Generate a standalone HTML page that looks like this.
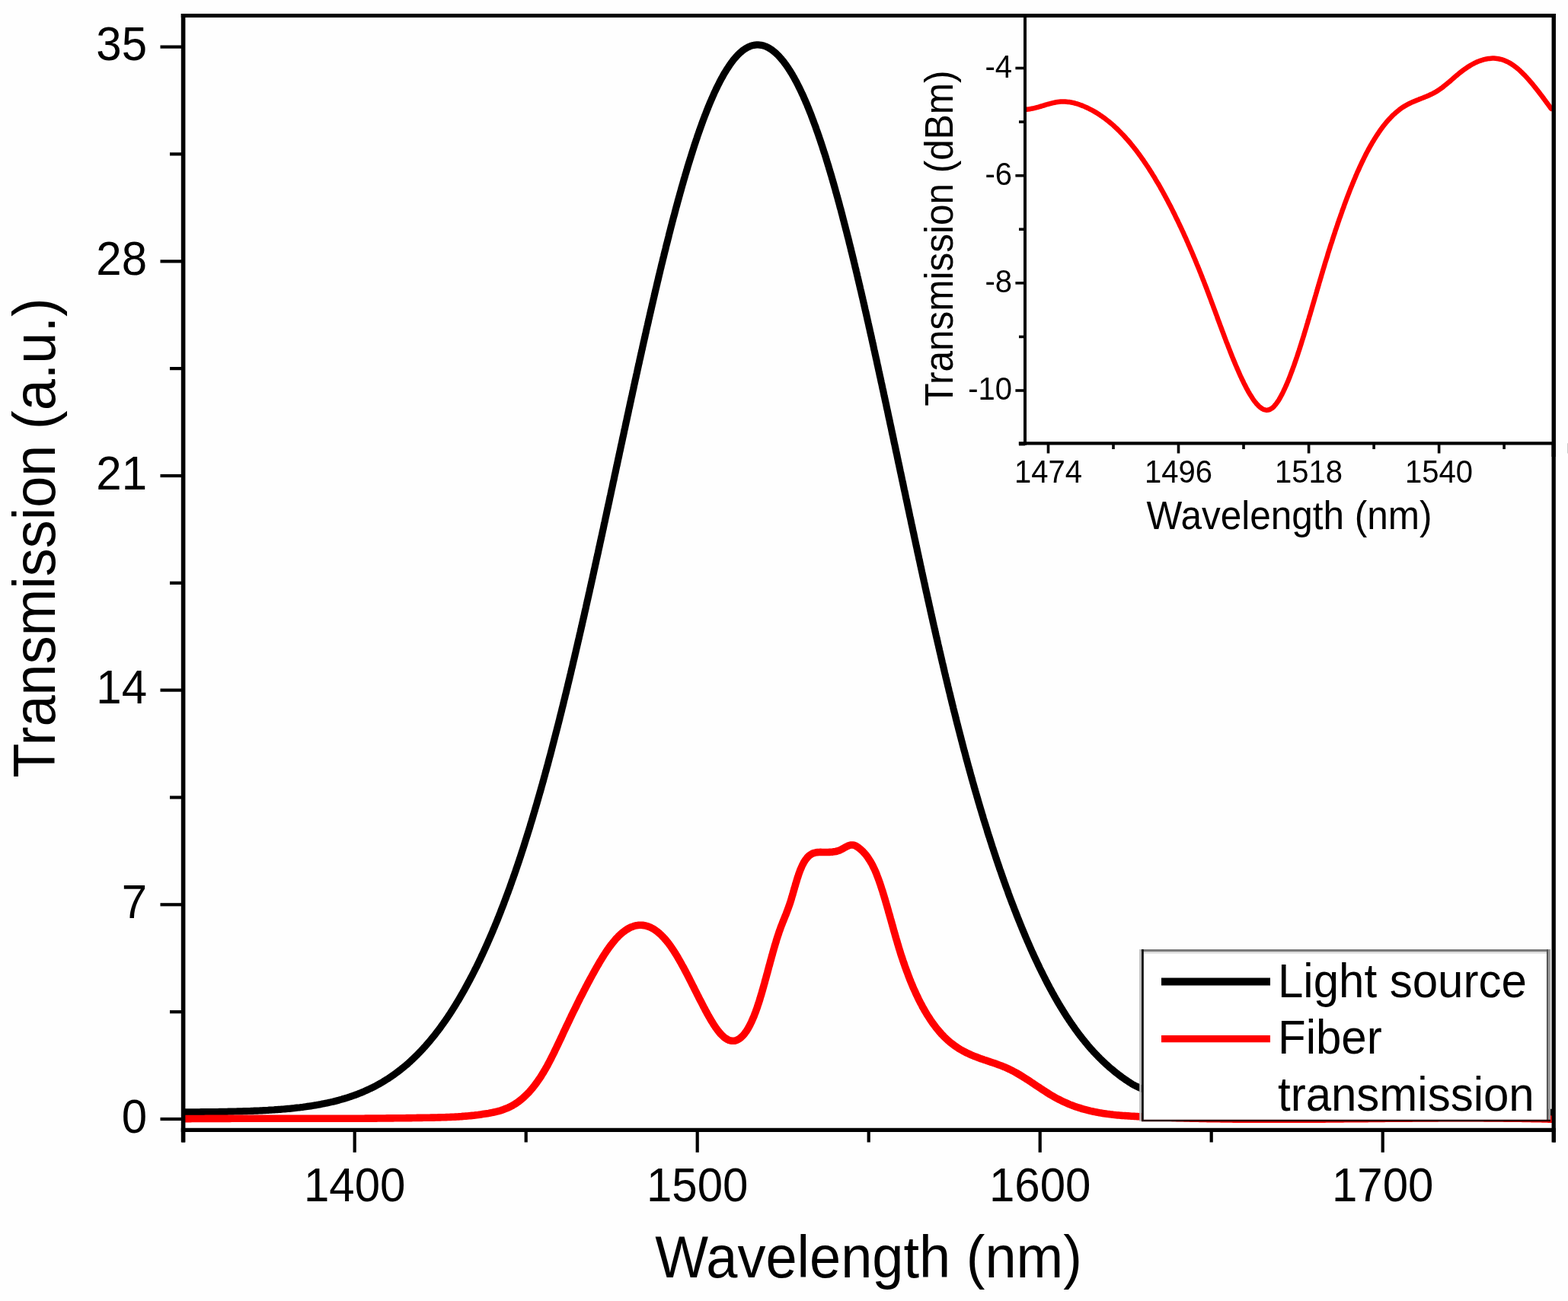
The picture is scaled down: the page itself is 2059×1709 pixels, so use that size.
<!DOCTYPE html><html><head><meta charset="utf-8"><title>Transmission spectrum</title>
<style>html,body{margin:0;padding:0;background:#fff;}svg{display:block;}text{font-family:"Liberation Sans",Arial,Helvetica,sans-serif;fill:#000;}</style></head><body>
<svg width="2059" height="1709" viewBox="0 0 2059 1709">
<rect x="0" y="0" width="2059" height="1709" fill="#fefefe"/>
<defs><clipPath id="cm"><rect x="240.6" y="20.5" width="1799.6" height="1463.8"/></clipPath><clipPath id="ci"><rect x="1346" y="20" width="694" height="563"/></clipPath></defs>
<g clip-path="url(#cm)" fill="none" stroke-linejoin="round" stroke-linecap="round">
<path d="M240.0 1460.9L242.0 1460.9 244.0 1460.9 246.0 1460.9 248.0 1460.9 250.0 1460.9 252.0 1460.8 254.0 1460.8 256.0 1460.8 258.0 1460.8 260.0 1460.8 262.0 1460.8 264.0 1460.7 266.0 1460.7 268.0 1460.7 270.0 1460.7 272.0 1460.7 274.0 1460.6 276.0 1460.6 278.0 1460.6 280.0 1460.6 282.0 1460.5 284.0 1460.5 286.0 1460.5 288.0 1460.4 290.0 1460.4 292.0 1460.4 294.0 1460.3 296.0 1460.3 298.0 1460.3 300.0 1460.2 302.0 1460.2 304.0 1460.1 306.0 1460.1 308.0 1460.0 310.0 1460.0 312.0 1459.9 314.0 1459.9 316.0 1459.8 318.0 1459.8 320.0 1459.7 322.0 1459.7 324.0 1459.6 326.0 1459.5 328.0 1459.5 330.0 1459.4 332.0 1459.3 334.0 1459.2 336.0 1459.1 338.0 1459.1 340.0 1459.0 342.0 1458.9 344.0 1458.8 346.0 1458.7 348.0 1458.6 350.0 1458.5 352.0 1458.4 354.0 1458.2 356.0 1458.1 357.9 1458.0 359.9 1457.9 361.9 1457.7 363.9 1457.6 365.9 1457.4 367.9 1457.3 369.9 1457.1 371.9 1457.0 373.9 1456.8 375.9 1456.6 377.9 1456.4 379.9 1456.3 381.9 1456.1 383.9 1455.9 385.8 1455.7 387.8 1455.4 389.8 1455.2 391.8 1455.0 393.8 1454.8 395.8 1454.5 397.8 1454.3 399.7 1454.0 401.7 1453.7 403.7 1453.4 405.7 1453.2 407.7 1452.9 409.6 1452.6 411.6 1452.2 413.6 1451.9 415.6 1451.6 417.5 1451.2 419.5 1450.9 421.5 1450.5 423.4 1450.1 425.4 1449.7 427.4 1449.3 429.3 1448.9 431.3 1448.5 433.2 1448.1 435.2 1447.6 437.1 1447.2 439.1 1446.7 441.0 1446.2 442.9 1445.7 444.9 1445.2 446.8 1444.6 448.7 1444.1 450.6 1443.5 452.6 1443.0 454.5 1442.4 456.4 1441.8 458.3 1441.2 460.2 1440.5 462.1 1439.9 464.0 1439.2 465.8 1438.6 467.7 1437.9 469.6 1437.2 471.4 1436.4 473.3 1435.7 475.2 1434.9 477.0 1434.2 478.8 1433.4 480.7 1432.6 482.5 1431.7 484.3 1430.9 486.1 1430.0 487.9 1429.2 489.7 1428.3 491.5 1427.4 493.3 1426.4 495.0 1425.5 496.8 1424.5 498.5 1423.6 500.3 1422.6 502.0 1421.6 503.7 1420.5 505.4 1419.5 507.1 1418.4 508.8 1417.4 510.5 1416.3 512.1 1415.2 513.8 1414.1 515.4 1412.9 517.1 1411.8 518.7 1410.6 520.3 1409.4 521.9 1408.2 523.5 1407.0 525.1 1405.8 526.7 1404.6 528.2 1403.3 529.8 1402.1 531.3 1400.8 532.9 1399.5 534.4 1398.2 535.9 1396.9 537.4 1395.5 538.9 1394.2 540.3 1392.8 541.8 1391.5 543.2 1390.1 544.7 1388.7 546.1 1387.3 547.5 1385.9 548.9 1384.5 550.3 1383.1 551.7 1381.6 553.1 1380.2 554.5 1378.7 555.8 1377.2 557.2 1375.7 558.5 1374.3 559.8 1372.8 561.1 1371.3 562.4 1369.7 563.7 1368.2 565.0 1366.7 566.3 1365.1 567.6 1363.6 568.8 1362.0 570.1 1360.5 571.3 1358.9 572.5 1357.3 573.8 1355.7 575.0 1354.2 576.2 1352.6 577.4 1351.0 578.6 1349.3 579.7 1347.7 580.9 1346.1 582.1 1344.5 583.2 1342.8 584.4 1341.2 585.5 1339.6 586.6 1337.9 587.8 1336.3 588.9 1334.6 590.0 1332.9 591.1 1331.3 592.2 1329.6 593.2 1327.9 594.3 1326.2 595.4 1324.5 596.5 1322.8 597.5 1321.1 598.6 1319.4 599.6 1317.7 600.6 1316.0 601.7 1314.3 602.7 1312.6 603.7 1310.9 604.7 1309.1 605.7 1307.4 606.7 1305.7 607.7 1303.9 608.7 1302.2 609.7 1300.4 610.7 1298.7 611.6 1296.9 612.6 1295.2 613.5 1293.4 614.5 1291.7 615.4 1289.9 616.4 1288.2 617.3 1286.4 618.2 1284.6 619.2 1282.8 620.1 1281.1 621.0 1279.3 621.9 1277.5 622.8 1275.7 623.7 1273.9 624.6 1272.1 625.5 1270.4 626.4 1268.6 627.3 1266.8 628.1 1265.0 629.0 1263.2 629.9 1261.4 630.7 1259.6 631.6 1257.7 632.4 1255.9 633.3 1254.1 634.1 1252.3 635.0 1250.5 635.8 1248.7 636.6 1246.9 637.5 1245.0 638.3 1243.2 639.1 1241.4 639.9 1239.6 640.7 1237.7 641.5 1235.9 642.3 1234.1 643.1 1232.2 643.9 1230.4 644.7 1228.6 645.5 1226.7 646.3 1224.9 647.1 1223.0 647.8 1221.2 648.6 1219.4 649.4 1217.5 650.1 1215.7 650.9 1213.8 651.7 1212.0 652.4 1210.1 653.2 1208.3 653.9 1206.4 654.7 1204.5 655.4 1202.7 656.1 1200.8 656.9 1199.0 657.6 1197.1 658.3 1195.2 659.0 1193.4 659.8 1191.5 660.5 1189.6 661.2 1187.8 661.9 1185.9 662.6 1184.0 663.3 1182.2 664.0 1180.3 664.7 1178.4 665.4 1176.5 666.1 1174.7 666.8 1172.8 667.5 1170.9 668.2 1169.0 668.9 1167.2 669.6 1165.3 670.2 1163.4 670.9 1161.5 671.6 1159.6 672.2 1157.7 672.9 1155.9 673.6 1154.0 674.2 1152.1 674.9 1150.2 675.6 1148.3 676.2 1146.4 676.9 1144.5 677.5 1142.6 678.2 1140.7 678.8 1138.8 679.4 1137.0 680.1 1135.1 680.7 1133.2 681.4 1131.3 682.0 1129.4 682.6 1127.5 683.3 1125.6 683.9 1123.7 684.5 1121.8 685.1 1119.9 685.7 1118.0 686.4 1116.1 687.0 1114.2 687.6 1112.3 688.2 1110.4 688.8 1108.5 689.4 1106.5 690.0 1104.6 690.6 1102.7 691.2 1100.8 691.8 1098.9 692.4 1097.0 693.0 1095.1 693.6 1093.2 694.2 1091.3 694.8 1089.4 695.4 1087.5 696.0 1085.5 696.5 1083.6 697.1 1081.7 697.7 1079.8 698.3 1077.9 698.9 1076.0 699.4 1074.1 700.0 1072.1 700.6 1070.2 701.1 1068.3 701.7 1066.4 702.3 1064.5 702.8 1062.5 703.4 1060.6 704.0 1058.7 704.5 1056.8 705.1 1054.9 705.6 1052.9 706.2 1051.0 706.7 1049.1 707.3 1047.2 707.8 1045.3 708.4 1043.3 708.9 1041.4 709.5 1039.5 710.0 1037.6 710.6 1035.6 711.1 1033.7 711.6 1031.8 712.2 1029.9 712.7 1027.9 713.3 1026.0 713.8 1024.1 714.3 1022.1 714.9 1020.2 715.4 1018.3 715.9 1016.4 716.4 1014.4 717.0 1012.5 717.5 1010.6 718.0 1008.6 718.5 1006.7 719.1 1004.8 719.6 1002.9 720.1 1000.9 720.6 999.0 721.1 997.1 721.6 995.1 722.2 993.2 722.7 991.3 723.2 989.3 723.7 987.4 724.2 985.5 724.7 983.5 725.2 981.6 725.7 979.7 726.2 977.7 726.7 975.8 727.2 973.8 727.7 971.9 728.2 970.0 728.7 968.0 729.2 966.1 729.7 964.2 730.2 962.2 730.7 960.3 731.2 958.3 731.7 956.4 732.2 954.5 732.7 952.5 733.2 950.6 733.7 948.7 734.2 946.7 734.7 944.8 735.1 942.8 735.6 940.9 736.1 939.0 736.6 937.0 737.1 935.1 737.6 933.1 738.0 931.2 738.5 929.3 739.0 927.3 739.5 925.4 740.0 923.4 740.4 921.5 740.9 919.5 741.4 917.6 741.9 915.7 742.3 913.7 742.8 911.8 743.3 909.8 743.8 907.9 744.2 905.9 744.7 904.0 745.2 902.1 745.6 900.1 746.1 898.2 746.6 896.2 747.0 894.3 747.5 892.3 748.0 890.4 748.4 888.4 748.9 886.5 749.4 884.5 749.8 882.6 750.3 880.7 750.7 878.7 751.2 876.8 751.7 874.8 752.1 872.9 752.6 870.9 753.0 869.0 753.5 867.0 754.0 865.1 754.4 863.1 754.9 861.2 755.3 859.2 755.8 857.3 756.2 855.3 756.7 853.4 757.1 851.4 757.6 849.5 758.0 847.6 758.5 845.6 758.9 843.7 759.4 841.7 759.8 839.8 760.3 837.8 760.7 835.9 761.2 833.9 761.6 832.0 762.1 830.0 762.5 828.1 763.0 826.1 763.4 824.2 763.9 822.2 764.3 820.3 764.7 818.3 765.2 816.4 765.6 814.4 766.1 812.5 766.5 810.5 767.0 808.6 767.4 806.6 767.8 804.7 768.3 802.7 768.7 800.8 769.2 798.8 769.6 796.9 770.0 794.9 770.5 792.9 770.9 791.0 771.3 789.0 771.8 787.1 772.2 785.1 772.7 783.2 773.1 781.2 773.5 779.3 774.0 777.3 774.4 775.4 774.8 773.4 775.3 771.5 775.7 769.5 776.1 767.6 776.6 765.6 777.0 763.7 777.4 761.7 777.9 759.8 778.3 757.8 778.7 755.9 779.2 753.9 779.6 751.9 780.0 750.0 780.4 748.0 780.9 746.1 781.3 744.1 781.7 742.2 782.2 740.2 782.6 738.3 783.0 736.3 783.4 734.4 783.9 732.4 784.3 730.5 784.7 728.5 785.2 726.6 785.6 724.6 786.0 722.6 786.4 720.7 786.9 718.7 787.3 716.8 787.7 714.8 788.1 712.9 788.6 710.9 789.0 709.0 789.4 707.0 789.8 705.1 790.3 703.1 790.7 701.1 791.1 699.2 791.5 697.2 792.0 695.3 792.4 693.3 792.8 691.4 793.2 689.4 793.6 687.5 794.1 685.5 794.5 683.6 794.9 681.6 795.3 679.6 795.8 677.7 796.2 675.7 796.6 673.8 797.0 671.8 797.4 669.9 797.9 667.9 798.3 666.0 798.7 664.0 799.1 662.1 799.6 660.1 800.0 658.1 800.4 656.2 800.8 654.2 801.2 652.3 801.7 650.3 802.1 648.4 802.5 646.4 802.9 644.5 803.3 642.5 803.8 640.5 804.2 638.6 804.6 636.6 805.0 634.7 805.4 632.7 805.9 630.8 806.3 628.8 806.7 626.9 807.1 624.9 807.5 622.9 808.0 621.0 808.4 619.0 808.8 617.1 809.2 615.1 809.6 613.2 810.1 611.2 810.5 609.3 810.9 607.3 811.3 605.3 811.7 603.4 812.2 601.4 812.6 599.5 813.0 597.5 813.4 595.6 813.8 593.6 814.3 591.7 814.7 589.7 815.1 587.7 815.5 585.8 815.9 583.8 816.4 581.9 816.8 579.9 817.2 578.0 817.6 576.0 818.0 574.1 818.5 572.1 818.9 570.1 819.3 568.2 819.7 566.2 820.1 564.3 820.6 562.3 821.0 560.4 821.4 558.4 821.8 556.5 822.2 554.5 822.7 552.6 823.1 550.6 823.5 548.6 823.9 546.7 824.4 544.7 824.8 542.8 825.2 540.8 825.6 538.9 826.0 536.9 826.5 535.0 826.9 533.0 827.3 531.0 827.7 529.1 828.2 527.1 828.6 525.2 829.0 523.2 829.4 521.3 829.9 519.3 830.3 517.4 830.7 515.4 831.1 513.5 831.6 511.5 832.0 509.5 832.4 507.6 832.8 505.6 833.3 503.7 833.7 501.7 834.1 499.8 834.5 497.8 835.0 495.9 835.4 493.9 835.8 492.0 836.3 490.0 836.7 488.1 837.1 486.1 837.5 484.2 838.0 482.2 838.4 480.2 838.8 478.3 839.3 476.3 839.7 474.4 840.1 472.4 840.6 470.5 841.0 468.5 841.4 466.6 841.9 464.6 842.3 462.7 842.7 460.7 843.2 458.8 843.6 456.8 844.0 454.9 844.5 452.9 844.9 451.0 845.3 449.0 845.8 447.1 846.2 445.1 846.7 443.1 847.1 441.2 847.5 439.2 848.0 437.3 848.4 435.3 848.8 433.4 849.3 431.4 849.7 429.5 850.2 427.5 850.6 425.6 851.1 423.6 851.5 421.7 851.9 419.7 852.4 417.8 852.8 415.8 853.3 413.9 853.7 411.9 854.2 410.0 854.6 408.0 855.1 406.1 855.5 404.1 856.0 402.2 856.4 400.2 856.9 398.3 857.3 396.3 857.8 394.4 858.2 392.5 858.7 390.5 859.1 388.6 859.6 386.6 860.0 384.7 860.5 382.7 860.9 380.8 861.4 378.8 861.9 376.9 862.3 374.9 862.8 373.0 863.2 371.0 863.7 369.1 864.2 367.1 864.6 365.2 865.1 363.2 865.5 361.3 866.0 359.4 866.5 357.4 866.9 355.5 867.4 353.5 867.9 351.6 868.3 349.6 868.8 347.7 869.3 345.7 869.8 343.8 870.2 341.9 870.7 339.9 871.2 338.0 871.7 336.0 872.1 334.1 872.6 332.1 873.1 330.2 873.6 328.3 874.1 326.3 874.5 324.4 875.0 322.4 875.5 320.5 876.0 318.6 876.5 316.6 877.0 314.7 877.5 312.7 878.0 310.8 878.4 308.9 878.9 306.9 879.4 305.0 879.9 303.1 880.4 301.1 880.9 299.2 881.4 297.2 881.9 295.3 882.4 293.4 882.9 291.4 883.4 289.5 883.9 287.6 884.4 285.6 885.0 283.7 885.5 281.8 886.0 279.8 886.5 277.9 887.0 276.0 887.5 274.0 888.0 272.1 888.6 270.2 889.1 268.2 889.6 266.3 890.1 264.4 890.7 262.4 891.2 260.5 891.7 258.6 892.3 256.7 892.8 254.7 893.3 252.8 893.9 250.9 894.4 249.0 894.9 247.0 895.5 245.1 896.0 243.2 896.6 241.3 897.1 239.3 897.7 237.4 898.2 235.5 898.8 233.6 899.4 231.7 899.9 229.7 900.5 227.8 901.1 225.9 901.6 224.0 902.2 222.1 902.8 220.1 903.3 218.2 903.9 216.3 904.5 214.4 905.1 212.5 905.7 210.6 906.3 208.7 906.9 206.8 907.5 204.8 908.1 202.9 908.7 201.0 909.3 199.1 909.9 197.2 910.5 195.3 911.1 193.4 911.7 191.5 912.3 189.6 913.0 187.7 913.6 185.8 914.2 183.9 914.9 182.0 915.5 180.1 916.1 178.2 916.8 176.3 917.4 174.5 918.1 172.6 918.8 170.7 919.4 168.8 920.1 166.9 920.8 165.0 921.5 163.1 922.1 161.3 922.8 159.4 923.5 157.5 924.2 155.6 924.9 153.8 925.6 151.9 926.4 150.0 927.1 148.2 927.8 146.3 928.5 144.4 929.3 142.6 930.0 140.7 930.8 138.9 931.5 137.0 932.3 135.2 933.1 133.3 933.9 131.5 934.7 129.7 935.5 127.8 936.3 126.0 937.1 124.2 937.9 122.3 938.7 120.5 939.6 118.7 940.4 116.9 941.3 115.1 942.2 113.3 943.1 111.5 944.0 109.7 944.9 107.9 945.8 106.2 946.7 104.4 947.7 102.6 948.7 100.9 949.6 99.1 950.6 97.4 951.6 95.7 952.7 94.0 953.7 92.3 954.8 90.6 955.9 88.9 957.0 87.2 958.1 85.6 959.2 83.9 960.4 82.3 961.6 80.7 962.8 79.1 964.1 77.6 965.4 76.1 966.7 74.5 968.1 73.1 969.4 71.6 970.9 70.2 972.3 68.9 973.9 67.6 975.4 66.3 977.0 65.1 978.7 64.0 980.4 63.0 982.2 62.0 984.0 61.2 985.8 60.4 987.7 59.8 989.7 59.4 991.7 59.1 993.6 58.9 995.6 58.9 997.6 59.1 999.6 59.3 1001.6 59.8 1003.5 60.3 1005.4 61.0 1007.2 61.8 1009.0 62.7 1010.7 63.7 1012.4 64.8 1014.0 65.9 1015.6 67.2 1017.2 68.4 1018.7 69.7 1020.1 71.1 1021.6 72.5 1023.0 73.9 1024.3 75.4 1025.6 76.9 1026.9 78.5 1028.2 80.0 1029.4 81.6 1030.6 83.2 1031.8 84.8 1033.0 86.4 1034.1 88.1 1035.2 89.7 1036.3 91.4 1037.4 93.1 1038.4 94.8 1039.5 96.5 1040.5 98.2 1041.5 100.0 1042.5 101.7 1043.4 103.4 1044.4 105.2 1045.4 107.0 1046.3 108.7 1047.2 110.5 1048.1 112.3 1049.0 114.1 1049.9 115.9 1050.8 117.7 1051.6 119.5 1052.5 121.3 1053.3 123.1 1054.2 124.9 1055.0 126.7 1055.8 128.6 1056.6 130.4 1057.4 132.2 1058.2 134.1 1059.0 135.9 1059.8 137.7 1060.5 139.6 1061.3 141.4 1062.0 143.3 1062.8 145.2 1063.5 147.0 1064.3 148.9 1065.0 150.7 1065.7 152.6 1066.4 154.5 1067.1 156.3 1067.8 158.2 1068.5 160.1 1069.2 162.0 1069.9 163.8 1070.6 165.7 1071.3 167.6 1071.9 169.5 1072.6 171.4 1073.3 173.3 1073.9 175.1 1074.6 177.0 1075.2 178.9 1075.9 180.8 1076.5 182.7 1077.2 184.6 1077.8 186.5 1078.4 188.4 1079.1 190.3 1079.7 192.2 1080.3 194.1 1080.9 196.0 1081.5 197.9 1082.1 199.8 1082.8 201.7 1083.4 203.6 1084.0 205.5 1084.6 207.4 1085.1 209.3 1085.7 211.3 1086.3 213.2 1086.9 215.1 1087.5 217.0 1088.1 218.9 1088.6 220.8 1089.2 222.7 1089.8 224.7 1090.4 226.6 1090.9 228.5 1091.5 230.4 1092.1 232.3 1092.6 234.3 1093.2 236.2 1093.7 238.1 1094.3 240.0 1094.8 241.9 1095.4 243.9 1095.9 245.8 1096.5 247.7 1097.0 249.6 1097.5 251.6 1098.1 253.5 1098.6 255.4 1099.1 257.3 1099.7 259.3 1100.2 261.2 1100.7 263.1 1101.3 265.1 1101.8 267.0 1102.3 268.9 1102.8 270.9 1103.3 272.8 1103.9 274.7 1104.4 276.6 1104.9 278.6 1105.4 280.5 1105.9 282.4 1106.4 284.4 1106.9 286.3 1107.4 288.3 1107.9 290.2 1108.4 292.1 1108.9 294.1 1109.4 296.0 1109.9 297.9 1110.4 299.9 1110.9 301.8 1111.4 303.7 1111.9 305.7 1112.4 307.6 1112.9 309.6 1113.4 311.5 1113.9 313.4 1114.4 315.4 1114.9 317.3 1115.3 319.3 1115.8 321.2 1116.3 323.1 1116.8 325.1 1117.3 327.0 1117.7 329.0 1118.2 330.9 1118.7 332.9 1119.2 334.8 1119.6 336.7 1120.1 338.7 1120.6 340.6 1121.1 342.6 1121.5 344.5 1122.0 346.5 1122.5 348.4 1122.9 350.3 1123.4 352.3 1123.9 354.2 1124.3 356.2 1124.8 358.1 1125.3 360.1 1125.7 362.0 1126.2 364.0 1126.6 365.9 1127.1 367.9 1127.6 369.8 1128.0 371.8 1128.5 373.7 1128.9 375.6 1129.4 377.6 1129.8 379.5 1130.3 381.5 1130.8 383.4 1131.2 385.4 1131.7 387.3 1132.1 389.3 1132.6 391.2 1133.0 393.2 1133.5 395.1 1133.9 397.1 1134.4 399.0 1134.8 401.0 1135.2 402.9 1135.7 404.9 1136.1 406.8 1136.6 408.8 1137.0 410.7 1137.5 412.7 1137.9 414.6 1138.4 416.6 1138.8 418.5 1139.2 420.5 1139.7 422.4 1140.1 424.4 1140.6 426.3 1141.0 428.3 1141.4 430.2 1141.9 432.2 1142.3 434.1 1142.7 436.1 1143.2 438.0 1143.6 440.0 1144.1 441.9 1144.5 443.9 1144.9 445.8 1145.4 447.8 1145.8 449.8 1146.2 451.7 1146.7 453.7 1147.1 455.6 1147.5 457.6 1147.9 459.5 1148.4 461.5 1148.8 463.4 1149.2 465.4 1149.7 467.3 1150.1 469.3 1150.5 471.2 1151.0 473.2 1151.4 475.1 1151.8 477.1 1152.2 479.1 1152.7 481.0 1153.1 483.0 1153.5 484.9 1153.9 486.9 1154.4 488.8 1154.8 490.8 1155.2 492.7 1155.6 494.7 1156.1 496.6 1156.5 498.6 1156.9 500.5 1157.3 502.5 1157.8 504.5 1158.2 506.4 1158.6 508.4 1159.0 510.3 1159.5 512.3 1159.9 514.2 1160.3 516.2 1160.7 518.1 1161.1 520.1 1161.6 522.1 1162.0 524.0 1162.4 526.0 1162.8 527.9 1163.3 529.9 1163.7 531.8 1164.1 533.8 1164.5 535.7 1164.9 537.7 1165.4 539.6 1165.8 541.6 1166.2 543.6 1166.6 545.5 1167.0 547.5 1167.4 549.4 1167.9 551.4 1168.3 553.3 1168.7 555.3 1169.1 557.2 1169.5 559.2 1170.0 561.2 1170.4 563.1 1170.8 565.1 1171.2 567.0 1171.6 569.0 1172.0 570.9 1172.5 572.9 1172.9 574.9 1173.3 576.8 1173.7 578.8 1174.1 580.7 1174.5 582.7 1175.0 584.6 1175.4 586.6 1175.8 588.5 1176.2 590.5 1176.6 592.5 1177.0 594.4 1177.5 596.4 1177.9 598.3 1178.3 600.3 1178.7 602.2 1179.1 604.2 1179.5 606.2 1179.9 608.1 1180.4 610.1 1180.8 612.0 1181.2 614.0 1181.6 615.9 1182.0 617.9 1182.4 619.8 1182.9 621.8 1183.3 623.8 1183.7 625.7 1184.1 627.7 1184.5 629.6 1184.9 631.6 1185.4 633.5 1185.8 635.5 1186.2 637.5 1186.6 639.4 1187.0 641.4 1187.4 643.3 1187.9 645.3 1188.3 647.2 1188.7 649.2 1189.1 651.1 1189.5 653.1 1189.9 655.1 1190.4 657.0 1190.8 659.0 1191.2 660.9 1191.6 662.9 1192.0 664.8 1192.4 666.8 1192.9 668.8 1193.3 670.7 1193.7 672.7 1194.1 674.6 1194.5 676.6 1194.9 678.5 1195.4 680.5 1195.8 682.4 1196.2 684.4 1196.6 686.4 1197.0 688.3 1197.5 690.3 1197.9 692.2 1198.3 694.2 1198.7 696.1 1199.1 698.1 1199.6 700.0 1200.0 702.0 1200.4 704.0 1200.8 705.9 1201.2 707.9 1201.7 709.8 1202.1 711.8 1202.5 713.7 1202.9 715.7 1203.3 717.6 1203.8 719.6 1204.2 721.5 1204.6 723.5 1205.0 725.5 1205.4 727.4 1205.9 729.4 1206.3 731.3 1206.7 733.3 1207.1 735.2 1207.6 737.2 1208.0 739.1 1208.4 741.1 1208.8 743.1 1209.3 745.0 1209.7 747.0 1210.1 748.9 1210.5 750.9 1211.0 752.8 1211.4 754.8 1211.8 756.7 1212.2 758.7 1212.7 760.6 1213.1 762.6 1213.5 764.5 1214.0 766.5 1214.4 768.5 1214.8 770.4 1215.2 772.4 1215.7 774.3 1216.1 776.3 1216.5 778.2 1217.0 780.2 1217.4 782.1 1217.8 784.1 1218.3 786.0 1218.7 788.0 1219.1 789.9 1219.6 791.9 1220.0 793.8 1220.4 795.8 1220.9 797.7 1221.3 799.7 1221.7 801.6 1222.2 803.6 1222.6 805.6 1223.1 807.5 1223.5 809.5 1223.9 811.4 1224.4 813.4 1224.8 815.3 1225.2 817.3 1225.7 819.2 1226.1 821.2 1226.6 823.1 1227.0 825.1 1227.5 827.0 1227.9 829.0 1228.3 830.9 1228.8 832.9 1229.2 834.8 1229.7 836.8 1230.1 838.7 1230.6 840.7 1231.0 842.6 1231.5 844.6 1231.9 846.5 1232.4 848.5 1232.8 850.4 1233.3 852.4 1233.7 854.3 1234.2 856.3 1234.6 858.2 1235.1 860.1 1235.5 862.1 1236.0 864.0 1236.4 866.0 1236.9 867.9 1237.3 869.9 1237.8 871.8 1238.3 873.8 1238.7 875.7 1239.2 877.7 1239.6 879.6 1240.1 881.6 1240.5 883.5 1241.0 885.5 1241.5 887.4 1241.9 889.4 1242.4 891.3 1242.9 893.2 1243.3 895.2 1243.8 897.1 1244.3 899.1 1244.7 901.0 1245.2 903.0 1245.7 904.9 1246.1 906.9 1246.6 908.8 1247.1 910.7 1247.6 912.7 1248.0 914.6 1248.5 916.6 1249.0 918.5 1249.5 920.5 1249.9 922.4 1250.4 924.3 1250.9 926.3 1251.4 928.2 1251.8 930.2 1252.3 932.1 1252.8 934.0 1253.3 936.0 1253.8 937.9 1254.3 939.9 1254.8 941.8 1255.2 943.7 1255.7 945.7 1256.2 947.6 1256.7 949.6 1257.2 951.5 1257.7 953.4 1258.2 955.4 1258.7 957.3 1259.2 959.3 1259.7 961.2 1260.2 963.1 1260.7 965.1 1261.2 967.0 1261.7 968.9 1262.2 970.9 1262.7 972.8 1263.2 974.7 1263.7 976.7 1264.2 978.6 1264.7 980.5 1265.2 982.5 1265.7 984.4 1266.2 986.3 1266.8 988.3 1267.3 990.2 1267.8 992.1 1268.3 994.1 1268.8 996.0 1269.3 997.9 1269.9 999.9 1270.4 1001.8 1270.9 1003.7 1271.4 1005.7 1272.0 1007.6 1272.5 1009.5 1273.0 1011.4 1273.6 1013.4 1274.1 1015.3 1274.6 1017.2 1275.2 1019.2 1275.7 1021.1 1276.2 1023.0 1276.8 1024.9 1277.3 1026.9 1277.9 1028.8 1278.4 1030.7 1278.9 1032.6 1279.5 1034.6 1280.0 1036.5 1280.6 1038.4 1281.1 1040.3 1281.7 1042.3 1282.3 1044.2 1282.8 1046.1 1283.4 1048.0 1283.9 1049.9 1284.5 1051.9 1285.0 1053.8 1285.6 1055.7 1286.2 1057.6 1286.7 1059.5 1287.3 1061.4 1287.9 1063.4 1288.5 1065.3 1289.0 1067.2 1289.6 1069.1 1290.2 1071.0 1290.8 1072.9 1291.3 1074.9 1291.9 1076.8 1292.5 1078.7 1293.1 1080.6 1293.7 1082.5 1294.3 1084.4 1294.9 1086.3 1295.5 1088.2 1296.1 1090.1 1296.6 1092.1 1297.2 1094.0 1297.8 1095.9 1298.4 1097.8 1299.1 1099.7 1299.7 1101.6 1300.3 1103.5 1300.9 1105.4 1301.5 1107.3 1302.1 1109.2 1302.7 1111.1 1303.3 1113.0 1304.0 1114.9 1304.6 1116.8 1305.2 1118.7 1305.8 1120.6 1306.5 1122.5 1307.1 1124.4 1307.7 1126.3 1308.3 1128.2 1309.0 1130.1 1309.6 1132.0 1310.3 1133.9 1310.9 1135.8 1311.6 1137.7 1312.2 1139.6 1312.8 1141.5 1313.5 1143.4 1314.2 1145.2 1314.8 1147.1 1315.5 1149.0 1316.1 1150.9 1316.8 1152.8 1317.5 1154.7 1318.1 1156.6 1318.8 1158.5 1319.5 1160.3 1320.1 1162.2 1320.8 1164.1 1321.5 1166.0 1322.2 1167.9 1322.9 1169.7 1323.6 1171.6 1324.2 1173.5 1324.9 1175.4 1325.6 1177.3 1326.3 1179.1 1327.0 1181.0 1327.7 1182.9 1328.4 1184.7 1329.1 1186.6 1329.9 1188.5 1330.6 1190.4 1331.3 1192.2 1332.0 1194.1 1332.7 1195.9 1333.5 1197.8 1334.2 1199.7 1334.9 1201.5 1335.6 1203.4 1336.4 1205.3 1337.1 1207.1 1337.9 1209.0 1338.6 1210.8 1339.4 1212.7 1340.1 1214.5 1340.9 1216.4 1341.6 1218.2 1342.4 1220.1 1343.1 1221.9 1343.9 1223.8 1344.7 1225.6 1345.5 1227.5 1346.2 1229.3 1347.0 1231.2 1347.8 1233.0 1348.6 1234.8 1349.4 1236.7 1350.2 1238.5 1351.0 1240.3 1351.8 1242.2 1352.6 1244.0 1353.4 1245.8 1354.2 1247.7 1355.0 1249.5 1355.8 1251.3 1356.7 1253.1 1357.5 1255.0 1358.3 1256.8 1359.2 1258.6 1360.0 1260.4 1360.9 1262.2 1361.7 1264.0 1362.6 1265.8 1363.4 1267.6 1364.3 1269.4 1365.1 1271.2 1366.0 1273.0 1366.9 1274.8 1367.8 1276.6 1368.7 1278.4 1369.6 1280.2 1370.5 1282.0 1371.4 1283.8 1372.3 1285.6 1373.2 1287.4 1374.1 1289.1 1375.0 1290.9 1375.9 1292.7 1376.9 1294.5 1377.8 1296.2 1378.7 1298.0 1379.7 1299.7 1380.7 1301.5 1381.6 1303.3 1382.6 1305.0 1383.6 1306.8 1384.5 1308.5 1385.5 1310.2 1386.5 1312.0 1387.5 1313.7 1388.5 1315.4 1389.5 1317.2 1390.5 1318.9 1391.6 1320.6 1392.6 1322.3 1393.6 1324.0 1394.7 1325.7 1395.7 1327.4 1396.8 1329.1 1397.8 1330.8 1398.9 1332.5 1400.0 1334.2 1401.1 1335.9 1402.2 1337.6 1403.3 1339.2 1404.4 1340.9 1405.5 1342.5 1406.6 1344.2 1407.8 1345.8 1408.9 1347.5 1410.1 1349.1 1411.2 1350.8 1412.4 1352.4 1413.6 1354.0 1414.7 1355.6 1415.9 1357.2 1417.1 1358.8 1418.3 1360.4 1419.6 1362.0 1420.8 1363.6 1422.0 1365.1 1423.3 1366.7 1424.5 1368.2 1425.8 1369.8 1427.1 1371.3 1428.4 1372.9 1429.7 1374.4 1431.0 1375.9 1432.3 1377.4 1433.6 1378.9 1435.0 1380.4 1436.3 1381.9 1437.7 1383.3 1439.1 1384.8 1440.4 1386.2 1441.8 1387.7 1443.2 1389.1 1444.6 1390.5 1446.1 1391.9 1447.5 1393.3 1448.9 1394.7 1450.4 1396.1 1451.9 1397.4 1453.3 1398.8 1454.8 1400.1 1456.3 1401.4 1457.8 1402.7 1459.4 1404.0 1460.9 1405.3 1462.4 1406.6 1464.0 1407.9 1465.5 1409.1 1467.1 1410.3 1468.7 1411.6 1470.3 1412.8 1471.9 1414.0 1473.5 1415.2 1475.1 1416.3 1476.8 1417.5 1478.4 1418.6 1480.1 1419.7 1481.7 1420.8 1483.4 1421.9 1485.1 1423.0 1486.8 1424.1 1488.5 1425.1 1490.3 1426.0 1492.1 1426.9 1493.9 1427.7 1495.7 1428.6 1497.5 1429.4 1499.3 1430.3 1501.2 1431.1 1503.0 1431.9 1504.8 1432.7 1506.7 1433.5 1508.5 1434.2 1510.4 1435.0 1512.2 1435.7 1514.1 1436.4 1516.0 1437.1 1517.9 1437.8 1519.7 1438.5 1521.6 1439.1 1523.5 1439.8 1525.4 1440.4 1527.3 1441.0 1529.2 1441.6 1531.1 1442.2 1533.1 1442.8 1535.0 1443.3 1536.9 1443.9 1538.8 1444.4 1540.8 1444.9 1542.7 1445.4 1544.6 1445.9 1546.6 1446.4 1548.5 1446.9 1550.5 1447.3 1552.4 1447.8 1554.4 1448.2 1556.3 1448.6 1558.3 1449.0 1560.3 1449.4 1562.2 1449.8 1564.2 1450.2 1566.1 1450.6 1568.1 1450.9 1570.1 1451.3 1572.1 1451.6 1574.0 1451.9 1576.0 1452.2 1578.0 1452.6 1580.0 1452.8 1581.9 1453.1 1583.9 1453.4 1585.9 1453.7 1587.9 1454.0 1589.9 1454.2 1591.8 1454.5 1593.8 1454.7 1595.8 1454.9 1597.8 1455.2 1599.8 1455.4 1601.8 1455.6 1603.8 1455.8 1605.8 1456.0 1607.8 1456.2 1609.7 1456.4 1611.7 1456.6 1613.7 1456.7 1615.7 1456.9 1617.7 1457.1 1619.7 1457.2 1621.7 1457.4 1623.7 1457.5 1625.7 1457.7 1627.7 1457.8 1629.7 1457.9 1631.7 1458.1 1633.7 1458.2 1635.7 1458.3 1637.7 1458.4 1639.7 1458.5 1641.7 1458.6 1643.7 1458.7 1645.7 1458.8 1647.7 1458.9 1649.7 1459.0 1651.6 1459.1 1653.6 1459.2 1655.6 1459.3 1657.6 1459.4 1659.6 1459.4 1661.6 1459.5 1663.6 1459.6 1665.6 1459.7 1667.6 1459.7 1669.6 1459.8 1671.6 1459.9 1673.6 1459.9 1675.6 1460.0 1677.6 1460.0 1679.6 1460.1 1681.6 1460.1 1683.6 1460.2 1685.6 1460.2 1687.6 1460.3 1689.6 1460.3 1691.6 1460.4 1693.6 1460.4 1695.6 1460.4 1697.6 1460.5 1699.6 1460.5 1701.6 1460.6 1703.6 1460.6 1705.6 1460.6 1707.6 1460.7 1709.6 1460.7 1711.6 1460.7 1713.6 1460.7 1715.6 1460.8 1717.6 1460.8 1719.6 1460.8 1721.6 1460.8 1723.6 1460.9 1725.6 1460.9 1727.6 1460.9 1729.6 1460.9 1731.6 1460.9 1733.6 1461.0 1735.6 1461.0 1737.6 1461.0 1739.6 1461.0 1741.6 1461.0 1743.6 1461.0 1745.6 1461.1 1747.6 1461.1 1749.6 1461.1 1751.6 1461.1 1753.6 1461.1 1755.6 1461.1 1757.6 1461.1 1759.6 1461.1 1761.6 1461.1 1763.6 1461.2 1765.6 1461.2 1767.6 1461.2 1769.6 1461.2 1771.6 1461.2 1773.6 1461.2 1775.6 1461.2 1777.6 1461.2 1779.6 1461.2 1781.6 1461.2 1783.6 1461.2 1785.6 1461.2 1787.6 1461.2 1789.6 1461.3 1791.6 1461.3 1793.6 1461.3 1795.6 1461.3 1797.6 1461.3 1799.6 1461.3 1801.6 1461.3 1803.6 1461.3 1805.6 1461.3 1807.6 1461.3 1809.6 1461.3 1811.6 1461.3 1813.6 1461.3 1815.6 1461.3 1817.6 1461.3 1819.6 1461.3 1821.6 1461.3 1823.6 1461.3 1825.6 1461.3 1827.6 1461.3 1829.6 1461.3 1831.6 1461.3 1833.6 1461.3 1835.6 1461.3 1837.6 1461.3 1839.6 1461.3 1841.6 1461.3 1843.6 1461.3 1845.6 1461.3 1847.6 1461.3 1849.6 1461.3 1851.6 1461.3 1853.6 1461.3 1855.6 1461.3 1857.6 1461.3 1859.6 1461.3 1861.6 1461.3 1863.6 1461.3 1865.6 1461.3 1867.6 1461.3 1869.6 1461.3 1871.6 1461.3 1873.6 1461.3 1875.6 1461.3 1877.6 1461.3 1879.6 1461.3 1881.6 1461.4 1883.6 1461.4 1885.6 1461.4 1887.6 1461.4 1889.6 1461.4 1891.6 1461.4 1893.6 1461.4 1895.6 1461.4 1897.6 1461.4 1899.6 1461.4 1901.6 1461.4 1903.6 1461.4 1905.6 1461.4 1907.6 1461.4 1909.6 1461.4 1911.6 1461.4 1913.6 1461.4 1915.6 1461.4 1917.6 1461.4 1919.6 1461.4 1921.6 1461.4 1923.6 1461.4 1925.6 1461.4 1927.6 1461.4 1929.6 1461.4 1931.6 1461.4 1933.6 1461.4 1935.6 1461.4 1937.6 1461.4 1939.6 1461.4 1941.6 1461.4 1943.6 1461.4 1945.6 1461.4 1947.6 1461.4 1949.6 1461.4 1951.6 1461.4 1953.6 1461.4 1955.6 1461.4 1957.6 1461.4 1959.6 1461.4 1961.6 1461.4 1963.6 1461.4 1965.6 1461.4 1967.6 1461.4 1969.6 1461.4 1971.6 1461.4 1973.6 1461.4 1975.6 1461.4 1977.6 1461.4 1979.6 1461.4 1981.6 1461.4 1983.6 1461.4 1985.6 1461.4 1987.6 1461.4 1989.6 1461.4 1991.6 1461.4 1993.6 1461.4 1995.6 1461.4 1997.6 1461.4 1999.6 1461.4 2001.6 1461.4 2003.6 1461.4 2005.6 1461.4 2007.6 1461.4 2009.6 1461.4 2011.6 1461.4 2013.6 1461.4 2015.6 1461.4 2017.6 1461.4 2019.6 1461.4 2021.6 1461.4 2023.6 1461.4 2025.6 1461.4 2027.6 1461.4 2029.6 1461.4 2031.6 1461.4 2033.6 1461.4 2035.6 1461.4 2037.6 1461.4 2039.6 1461.4" stroke="#000" stroke-width="9.2"/>
<path d="M240.0 1469.6L242.0 1469.6 244.0 1469.6 246.0 1469.6 248.0 1469.6 250.0 1469.6 252.0 1469.5 254.0 1469.5 256.0 1469.5 258.0 1469.5 260.0 1469.5 262.0 1469.5 264.0 1469.5 266.0 1469.5 268.0 1469.5 270.0 1469.4 272.0 1469.4 274.0 1469.4 276.0 1469.4 278.0 1469.4 280.0 1469.4 282.0 1469.4 284.0 1469.4 286.0 1469.4 288.0 1469.4 290.0 1469.4 292.0 1469.4 294.0 1469.4 296.0 1469.4 298.0 1469.4 300.0 1469.4 302.0 1469.4 304.0 1469.3 306.0 1469.3 308.0 1469.3 310.0 1469.3 312.0 1469.3 314.0 1469.3 316.0 1469.3 318.0 1469.3 320.0 1469.3 322.0 1469.3 324.0 1469.3 326.0 1469.3 328.0 1469.3 330.0 1469.3 332.0 1469.3 334.0 1469.3 336.0 1469.3 338.0 1469.3 340.0 1469.3 342.0 1469.3 344.0 1469.3 346.0 1469.3 348.0 1469.3 350.0 1469.3 352.0 1469.3 354.0 1469.3 356.0 1469.3 358.0 1469.3 360.0 1469.3 362.0 1469.3 364.0 1469.3 366.0 1469.3 368.0 1469.3 370.0 1469.3 372.0 1469.3 374.0 1469.3 376.0 1469.3 378.0 1469.3 380.0 1469.3 382.0 1469.3 384.0 1469.3 386.0 1469.3 388.0 1469.3 390.0 1469.3 392.0 1469.3 394.0 1469.3 396.0 1469.3 398.0 1469.3 400.0 1469.3 402.0 1469.3 404.0 1469.3 406.0 1469.3 408.0 1469.3 410.0 1469.3 412.0 1469.3 414.0 1469.3 416.0 1469.3 418.0 1469.3 420.0 1469.3 422.0 1469.3 424.0 1469.3 426.0 1469.3 428.0 1469.3 430.0 1469.3 432.0 1469.3 434.0 1469.3 436.0 1469.3 438.0 1469.3 440.0 1469.3 442.0 1469.3 444.0 1469.3 446.0 1469.3 448.0 1469.3 450.0 1469.3 452.0 1469.3 454.0 1469.3 456.0 1469.3 458.0 1469.2 460.0 1469.2 462.0 1469.2 464.0 1469.2 466.0 1469.2 468.0 1469.2 470.0 1469.2 472.0 1469.2 474.0 1469.2 476.0 1469.2 478.0 1469.2 480.0 1469.1 482.0 1469.1 484.0 1469.1 486.0 1469.1 488.0 1469.1 490.0 1469.1 492.0 1469.1 494.0 1469.1 496.0 1469.0 498.0 1469.0 500.0 1469.0 502.0 1469.0 504.0 1469.0 506.0 1469.0 508.0 1468.9 510.0 1468.9 512.0 1468.9 514.0 1468.9 516.0 1468.9 518.0 1468.8 520.0 1468.8 522.0 1468.8 524.0 1468.8 526.0 1468.7 528.0 1468.7 530.0 1468.7 532.0 1468.7 534.0 1468.6 536.0 1468.6 538.0 1468.6 540.0 1468.6 542.0 1468.5 544.0 1468.5 546.0 1468.5 548.0 1468.4 550.0 1468.4 552.0 1468.4 554.0 1468.4 556.0 1468.3 558.0 1468.3 560.0 1468.2 562.0 1468.2 564.0 1468.2 566.0 1468.1 568.0 1468.1 570.0 1468.1 572.0 1468.0 574.0 1468.0 576.0 1467.9 578.0 1467.9 580.0 1467.8 582.0 1467.8 584.0 1467.7 586.0 1467.6 588.0 1467.5 590.0 1467.5 592.0 1467.4 594.0 1467.3 596.0 1467.2 598.0 1467.1 600.0 1467.0 602.0 1466.9 604.0 1466.7 606.0 1466.6 608.0 1466.4 609.9 1466.3 611.9 1466.1 613.9 1466.0 615.9 1465.8 617.9 1465.6 619.9 1465.4 621.9 1465.2 623.9 1464.9 625.9 1464.7 627.9 1464.5 629.8 1464.2 631.8 1463.9 633.8 1463.6 635.8 1463.3 637.7 1463.0 639.7 1462.7 641.7 1462.4 643.7 1462.0 645.6 1461.6 647.6 1461.2 649.5 1460.8 651.5 1460.3 653.4 1459.9 655.4 1459.3 657.3 1458.8 659.2 1458.2 661.1 1457.5 662.9 1456.8 664.8 1456.1 666.6 1455.3 668.5 1454.5 670.3 1453.6 672.0 1452.7 673.8 1451.7 675.5 1450.7 677.2 1449.6 678.9 1448.5 680.5 1447.3 682.1 1446.1 683.7 1444.9 685.2 1443.6 686.7 1442.3 688.2 1441.0 689.7 1439.6 691.1 1438.2 692.5 1436.8 693.9 1435.4 695.3 1433.9 696.6 1432.4 697.9 1430.9 699.2 1429.4 700.4 1427.8 701.7 1426.2 702.9 1424.6 704.1 1423.0 705.3 1421.4 706.4 1419.8 707.6 1418.1 708.7 1416.5 709.8 1414.8 710.9 1413.1 711.9 1411.4 713.0 1409.7 714.0 1408.0 715.0 1406.3 716.0 1404.6 717.0 1402.8 718.0 1401.1 719.0 1399.3 719.9 1397.6 720.8 1395.8 721.8 1394.0 722.7 1392.3 723.6 1390.5 724.5 1388.7 725.4 1386.9 726.3 1385.1 727.2 1383.3 728.1 1381.5 728.9 1379.7 729.8 1377.9 730.7 1376.1 731.5 1374.3 732.4 1372.5 733.3 1370.7 734.1 1368.9 735.0 1367.1 735.8 1365.3 736.7 1363.5 737.5 1361.7 738.4 1359.9 739.2 1358.0 740.0 1356.2 740.9 1354.4 741.7 1352.6 742.6 1350.8 743.4 1349.0 744.3 1347.2 745.2 1345.4 746.0 1343.6 746.9 1341.8 747.7 1340.0 748.6 1338.2 749.5 1336.3 750.3 1334.5 751.2 1332.7 752.1 1330.9 752.9 1329.1 753.8 1327.4 754.7 1325.6 755.6 1323.8 756.5 1322.0 757.4 1320.2 758.2 1318.4 759.1 1316.6 760.0 1314.8 760.9 1313.0 761.8 1311.2 762.7 1309.4 763.6 1307.7 764.6 1305.9 765.5 1304.1 766.4 1302.3 767.3 1300.6 768.2 1298.8 769.1 1297.0 770.1 1295.2 771.0 1293.5 771.9 1291.7 772.9 1289.9 773.8 1288.2 774.8 1286.4 775.7 1284.6 776.7 1282.9 777.6 1281.1 778.6 1279.4 779.6 1277.6 780.5 1275.9 781.5 1274.1 782.5 1272.4 783.5 1270.6 784.5 1268.9 785.5 1267.2 786.5 1265.5 787.5 1263.7 788.5 1262.0 789.6 1260.3 790.6 1258.6 791.7 1256.9 792.7 1255.2 793.8 1253.5 794.9 1251.9 796.0 1250.2 797.1 1248.5 798.3 1246.9 799.4 1245.3 800.6 1243.6 801.8 1242.0 803.0 1240.4 804.2 1238.9 805.5 1237.3 806.8 1235.8 808.1 1234.2 809.4 1232.7 810.8 1231.3 812.1 1229.8 813.6 1228.4 815.0 1227.1 816.5 1225.8 818.1 1224.5 819.7 1223.3 821.3 1222.1 823.0 1221.0 824.7 1220.0 826.4 1219.0 828.2 1218.1 830.1 1217.4 832.0 1216.7 833.9 1216.2 835.8 1215.7 837.8 1215.4 839.8 1215.3 841.8 1215.3 843.8 1215.4 845.8 1215.6 847.8 1216.0 849.7 1216.6 851.6 1217.2 853.4 1217.9 855.2 1218.8 857.0 1219.7 858.7 1220.7 860.4 1221.8 862.0 1223.0 863.6 1224.2 865.2 1225.5 866.7 1226.8 868.1 1228.2 869.5 1229.6 870.9 1231.0 872.3 1232.5 873.6 1234.0 874.9 1235.5 876.2 1237.1 877.4 1238.6 878.6 1240.2 879.8 1241.8 881.0 1243.5 882.1 1245.1 883.2 1246.8 884.3 1248.4 885.4 1250.1 886.5 1251.8 887.5 1253.5 888.6 1255.2 889.6 1256.9 890.6 1258.7 891.6 1260.4 892.6 1262.1 893.6 1263.9 894.6 1265.6 895.5 1267.4 896.5 1269.1 897.5 1270.9 898.4 1272.6 899.3 1274.4 900.3 1276.2 901.2 1277.9 902.1 1279.7 903.1 1281.5 904.0 1283.3 904.9 1285.0 905.8 1286.8 906.7 1288.6 907.6 1290.4 908.5 1292.2 909.4 1294.0 910.3 1295.7 911.2 1297.5 912.1 1299.3 913.0 1301.1 913.9 1302.9 914.8 1304.7 915.7 1306.5 916.6 1308.2 917.5 1310.0 918.4 1311.8 919.3 1313.6 920.3 1315.4 921.2 1317.1 922.1 1318.9 923.0 1320.7 923.9 1322.5 924.9 1324.2 925.8 1326.0 926.7 1327.8 927.7 1329.5 928.6 1331.3 929.6 1333.0 930.6 1334.8 931.6 1336.5 932.6 1338.3 933.6 1340.0 934.6 1341.7 935.7 1343.4 936.7 1345.1 937.8 1346.8 938.9 1348.4 940.0 1350.1 941.2 1351.7 942.4 1353.3 943.6 1354.9 944.9 1356.5 946.2 1358.0 947.6 1359.4 949.0 1360.8 950.5 1362.2 952.0 1363.4 953.7 1364.5 955.4 1365.5 957.2 1366.4 959.2 1367.0 961.1 1367.3 963.1 1367.3 965.1 1367.1 967.0 1366.5 968.9 1365.7 970.6 1364.7 972.2 1363.5 973.7 1362.2 975.1 1360.8 976.5 1359.4 977.7 1357.8 978.9 1356.2 980.1 1354.6 981.2 1352.9 982.2 1351.2 983.2 1349.4 984.1 1347.7 985.1 1345.9 985.9 1344.1 986.8 1342.3 987.6 1340.5 988.4 1338.6 989.2 1336.8 990.0 1335.0 990.7 1333.1 991.4 1331.2 992.2 1329.4 992.8 1327.5 993.5 1325.6 994.2 1323.7 994.8 1321.8 995.4 1319.9 996.1 1318.0 996.7 1316.1 997.3 1314.2 997.9 1312.3 998.4 1310.4 999.0 1308.5 999.6 1306.5 1000.2 1304.6 1000.7 1302.7 1001.3 1300.8 1001.8 1298.9 1002.4 1296.9 1002.9 1295.0 1003.4 1293.1 1004.0 1291.2 1004.5 1289.2 1005.0 1287.3 1005.6 1285.4 1006.1 1283.4 1006.6 1281.5 1007.1 1279.6 1007.7 1277.7 1008.2 1275.7 1008.7 1273.8 1009.2 1271.9 1009.7 1269.9 1010.3 1268.0 1010.8 1266.1 1011.3 1264.1 1011.8 1262.2 1012.4 1260.3 1012.9 1258.4 1013.4 1256.4 1014.0 1254.5 1014.5 1252.6 1015.0 1250.6 1015.6 1248.7 1016.1 1246.8 1016.7 1244.9 1017.2 1243.0 1017.8 1241.0 1018.4 1239.1 1019.0 1237.2 1019.5 1235.3 1020.1 1233.4 1020.7 1231.5 1021.3 1229.6 1022.0 1227.7 1022.6 1225.8 1023.2 1223.9 1023.9 1222.0 1024.6 1220.1 1025.2 1218.2 1025.9 1216.4 1026.7 1214.5 1027.4 1212.6 1028.1 1210.8 1028.9 1208.9 1029.6 1207.1 1030.4 1205.2 1031.1 1203.3 1031.9 1201.5 1032.6 1199.6 1033.3 1197.8 1034.0 1195.9 1034.7 1194.0 1035.4 1192.1 1036.1 1190.2 1036.7 1188.4 1037.4 1186.5 1038.0 1184.6 1038.6 1182.6 1039.2 1180.7 1039.7 1178.8 1040.3 1176.9 1040.9 1175.0 1041.4 1173.1 1042.0 1171.1 1042.5 1169.2 1043.1 1167.3 1043.6 1165.4 1044.2 1163.5 1044.7 1161.5 1045.3 1159.6 1045.9 1157.7 1046.5 1155.8 1047.0 1153.9 1047.7 1152.0 1048.3 1150.1 1048.9 1148.2 1049.6 1146.3 1050.3 1144.4 1051.0 1142.5 1051.8 1140.7 1052.6 1138.9 1053.4 1137.0 1054.3 1135.3 1055.2 1133.5 1056.2 1131.8 1057.3 1130.1 1058.5 1128.4 1059.7 1126.9 1061.1 1125.4 1062.5 1124.0 1064.1 1122.8 1065.8 1121.8 1067.6 1120.9 1069.5 1120.3 1071.5 1119.8 1073.5 1119.6 1075.4 1119.5 1077.4 1119.4 1079.4 1119.5 1081.4 1119.5 1083.4 1119.5 1085.4 1119.5 1087.4 1119.5 1089.4 1119.4 1091.4 1119.3 1093.4 1119.1 1095.4 1118.8 1097.4 1118.5 1099.3 1118.0 1101.2 1117.4 1103.1 1116.7 1104.9 1115.8 1106.7 1114.9 1108.4 1113.9 1110.1 1112.9 1111.9 1112.0 1113.7 1111.1 1115.6 1110.4 1117.5 1110.0 1119.5 1110.0 1121.5 1110.3 1123.4 1111.0 1125.1 1112.0 1126.8 1113.1 1128.4 1114.3 1129.9 1115.6 1131.4 1116.9 1132.9 1118.3 1134.2 1119.7 1135.6 1121.2 1136.9 1122.8 1138.1 1124.3 1139.3 1125.9 1140.4 1127.6 1141.5 1129.3 1142.6 1131.0 1143.6 1132.7 1144.6 1134.4 1145.5 1136.2 1146.4 1138.0 1147.3 1139.8 1148.2 1141.6 1149.0 1143.4 1149.8 1145.2 1150.6 1147.1 1151.3 1148.9 1152.0 1150.8 1152.7 1152.7 1153.4 1154.5 1154.1 1156.4 1154.8 1158.3 1155.4 1160.2 1156.1 1162.1 1156.7 1164.0 1157.3 1165.9 1157.9 1167.8 1158.6 1169.7 1159.2 1171.6 1159.7 1173.5 1160.3 1175.4 1160.9 1177.3 1161.5 1179.3 1162.1 1181.2 1162.6 1183.1 1163.2 1185.0 1163.7 1186.9 1164.3 1188.8 1164.9 1190.8 1165.4 1192.7 1166.0 1194.6 1166.5 1196.5 1167.0 1198.5 1167.6 1200.4 1168.1 1202.3 1168.7 1204.2 1169.2 1206.2 1169.8 1208.1 1170.3 1210.0 1170.8 1211.9 1171.4 1213.9 1171.9 1215.8 1172.5 1217.7 1173.0 1219.6 1173.5 1221.6 1174.1 1223.5 1174.6 1225.4 1175.2 1227.3 1175.7 1229.3 1176.3 1231.2 1176.8 1233.1 1177.4 1235.0 1178.0 1236.9 1178.5 1238.9 1179.1 1240.8 1179.7 1242.7 1180.2 1244.6 1180.8 1246.5 1181.4 1248.4 1182.0 1250.3 1182.6 1252.3 1183.2 1254.2 1183.8 1256.1 1184.5 1258.0 1185.1 1259.9 1185.7 1261.8 1186.4 1263.7 1187.0 1265.5 1187.7 1267.4 1188.3 1269.3 1189.0 1271.2 1189.7 1273.1 1190.4 1275.0 1191.1 1276.8 1191.8 1278.7 1192.5 1280.6 1193.2 1282.5 1193.9 1284.3 1194.6 1286.2 1195.4 1288.0 1196.1 1289.9 1196.9 1291.7 1197.7 1293.6 1198.4 1295.4 1199.2 1297.3 1200.0 1299.1 1200.8 1300.9 1201.7 1302.7 1202.5 1304.6 1203.3 1306.4 1204.2 1308.2 1205.1 1310.0 1205.9 1311.8 1206.8 1313.6 1207.7 1315.4 1208.6 1317.2 1209.6 1318.9 1210.5 1320.7 1211.4 1322.5 1212.4 1324.2 1213.4 1326.0 1214.4 1327.7 1215.4 1329.4 1216.4 1331.1 1217.4 1332.8 1218.5 1334.5 1219.6 1336.2 1220.7 1337.9 1221.8 1339.6 1222.9 1341.2 1224.0 1342.9 1225.2 1344.5 1226.4 1346.1 1227.6 1347.7 1228.8 1349.3 1230.0 1350.9 1231.3 1352.4 1232.6 1354.0 1233.9 1355.5 1235.2 1357.0 1236.5 1358.5 1237.9 1359.9 1239.3 1361.4 1240.7 1362.8 1242.2 1364.2 1243.6 1365.5 1245.1 1366.9 1246.6 1368.2 1248.1 1369.4 1249.7 1370.7 1251.3 1371.9 1252.9 1373.1 1254.5 1374.3 1256.2 1375.4 1257.8 1376.5 1259.5 1377.6 1261.2 1378.6 1263.0 1379.6 1264.7 1380.6 1266.5 1381.5 1268.3 1382.5 1270.1 1383.3 1271.9 1384.2 1273.7 1385.0 1275.5 1385.8 1277.4 1386.6 1279.2 1387.4 1281.1 1388.1 1282.9 1388.8 1284.8 1389.5 1286.7 1390.2 1288.6 1390.9 1290.5 1391.5 1292.4 1392.2 1294.2 1392.8 1296.1 1393.4 1298.0 1394.1 1299.9 1394.7 1301.8 1395.4 1303.7 1396.0 1305.6 1396.6 1307.5 1397.3 1309.4 1398.0 1311.3 1398.7 1313.1 1399.4 1315.0 1400.1 1316.9 1400.8 1318.7 1401.6 1320.6 1402.3 1322.4 1403.1 1324.2 1404.0 1326.0 1404.8 1327.8 1405.7 1329.6 1406.6 1331.4 1407.6 1333.1 1408.5 1334.9 1409.5 1336.6 1410.5 1338.3 1411.5 1340.0 1412.5 1341.8 1413.6 1343.4 1414.6 1345.1 1415.7 1346.8 1416.8 1348.5 1417.9 1350.2 1418.9 1351.9 1420.0 1353.5 1421.1 1355.2 1422.3 1356.9 1423.4 1358.5 1424.5 1360.2 1425.6 1361.8 1426.7 1363.5 1427.8 1365.2 1428.9 1366.8 1430.0 1368.5 1431.1 1370.2 1432.2 1371.9 1433.3 1373.5 1434.4 1375.2 1435.5 1376.9 1436.5 1378.6 1437.6 1380.3 1438.6 1382.1 1439.6 1383.8 1440.6 1385.5 1441.6 1387.3 1442.6 1389.0 1443.5 1390.8 1444.4 1392.6 1445.3 1394.4 1446.2 1396.2 1447.1 1398.0 1447.9 1399.8 1448.7 1401.7 1449.5 1403.5 1450.3 1405.4 1451.1 1407.2 1451.8 1409.1 1452.5 1411.0 1453.2 1412.9 1453.9 1414.8 1454.5 1416.7 1455.1 1418.6 1455.7 1420.5 1456.3 1422.4 1456.9 1424.3 1457.4 1426.3 1457.9 1428.2 1458.4 1430.1 1458.9 1432.1 1459.4 1434.0 1459.8 1436.0 1460.2 1438.0 1460.6 1439.9 1461.0 1441.9 1461.4 1443.8 1461.8 1445.8 1462.1 1447.8 1462.4 1449.8 1462.7 1451.8 1463.0 1453.7 1463.3 1455.7 1463.5 1457.7 1463.8 1459.7 1464.0 1461.7 1464.3 1463.7 1464.5 1465.7 1464.7 1467.6 1464.9 1469.6 1465.0 1471.6 1465.2 1473.6 1465.4 1475.6 1465.5 1477.6 1465.6 1479.6 1465.8 1481.6 1465.9 1483.6 1466.0 1485.6 1466.2 1487.6 1466.3 1489.6 1466.4 1491.6 1466.5 1493.6 1466.6 1495.6 1466.7 1497.6 1466.8 1499.6 1466.9 1501.6 1466.9 1503.6 1467.0 1505.6 1467.1 1507.6 1467.2 1509.6 1467.3 1511.6 1467.4 1513.6 1467.5 1515.6 1467.5 1517.6 1467.6 1519.6 1467.7 1521.6 1467.8 1523.6 1467.9 1525.6 1467.9 1527.6 1468.0 1529.6 1468.1 1531.6 1468.1 1533.5 1468.2 1535.5 1468.3 1537.5 1468.3 1539.5 1468.4 1541.5 1468.5 1543.5 1468.5 1545.5 1468.6 1547.5 1468.7 1549.5 1468.7 1551.5 1468.8 1553.5 1468.8 1555.5 1468.9 1557.5 1468.9 1559.5 1469.0 1561.5 1469.0 1563.5 1469.1 1565.5 1469.1 1567.5 1469.2 1569.5 1469.2 1571.5 1469.3 1573.5 1469.3 1575.5 1469.4 1577.5 1469.4 1579.5 1469.4 1581.5 1469.5 1583.5 1469.5 1585.5 1469.6 1587.5 1469.6 1589.5 1469.6 1591.5 1469.7 1593.5 1469.7 1595.5 1469.7 1597.5 1469.8 1599.5 1469.8 1601.5 1469.8 1603.5 1469.9 1605.5 1469.9 1607.5 1469.9 1609.5 1469.9 1611.5 1470.0 1613.5 1470.0 1615.5 1470.0 1617.5 1470.0 1619.5 1470.1 1621.5 1470.1 1623.5 1470.1 1625.5 1470.1 1627.5 1470.1 1629.5 1470.1 1631.5 1470.2 1633.5 1470.2 1635.5 1470.2 1637.5 1470.2 1639.5 1470.2 1641.5 1470.2 1643.5 1470.2 1645.5 1470.2 1647.5 1470.3 1649.5 1470.3 1651.5 1470.3 1653.5 1470.3 1655.5 1470.3 1657.5 1470.3 1659.5 1470.3 1661.5 1470.3 1663.5 1470.3 1665.5 1470.3 1667.5 1470.3 1669.5 1470.3 1671.5 1470.3 1673.5 1470.3 1675.5 1470.3 1677.5 1470.3 1679.5 1470.3 1681.5 1470.3 1683.5 1470.3 1685.5 1470.3 1687.5 1470.3 1689.5 1470.3 1691.5 1470.3 1693.5 1470.3 1695.5 1470.3 1697.5 1470.3 1699.5 1470.3 1701.5 1470.3 1703.5 1470.3 1705.5 1470.3 1707.5 1470.2 1709.5 1470.2 1711.5 1470.2 1713.5 1470.2 1715.5 1470.2 1717.5 1470.2 1719.5 1470.2 1721.5 1470.2 1723.5 1470.2 1725.5 1470.1 1727.5 1470.1 1729.5 1470.1 1731.5 1470.1 1733.5 1470.1 1735.5 1470.1 1737.5 1470.1 1739.5 1470.1 1741.5 1470.0 1743.5 1470.0 1745.5 1470.0 1747.5 1470.0 1749.5 1470.0 1751.5 1470.0 1753.5 1469.9 1755.5 1469.9 1757.5 1469.9 1759.5 1469.9 1761.5 1469.9 1763.5 1469.9 1765.5 1469.8 1767.5 1469.8 1769.5 1469.8 1771.5 1469.8 1773.5 1469.8 1775.5 1469.8 1777.5 1469.7 1779.5 1469.7 1781.5 1469.7 1783.5 1469.7 1785.5 1469.7 1787.5 1469.6 1789.5 1469.6 1791.5 1469.6 1793.5 1469.6 1795.5 1469.6 1797.5 1469.5 1799.5 1469.5 1801.5 1469.5 1803.5 1469.5 1805.5 1469.5 1807.5 1469.5 1809.5 1469.4 1811.5 1469.4 1813.5 1469.4 1815.5 1469.4 1817.5 1469.4 1819.5 1469.3 1821.5 1469.3 1823.5 1469.3 1825.5 1469.3 1827.5 1469.3 1829.5 1469.3 1831.5 1469.2 1833.5 1469.2 1835.5 1469.2 1837.5 1469.2 1839.5 1469.2 1841.5 1469.2 1843.5 1469.1 1845.5 1469.1 1847.5 1469.1 1849.5 1469.1 1851.5 1469.1 1853.5 1469.1 1855.5 1469.0 1857.5 1469.0 1859.5 1469.0 1861.5 1469.0 1863.5 1469.0 1865.5 1469.0 1867.5 1469.0 1869.5 1468.9 1871.5 1468.9 1873.5 1468.9 1875.5 1468.9 1877.5 1468.9 1879.5 1468.9 1881.5 1468.9 1883.5 1468.9 1885.5 1468.9 1887.5 1468.9 1889.5 1468.8 1891.5 1468.8 1893.5 1468.8 1895.5 1468.8 1897.5 1468.8 1899.5 1468.8 1901.5 1468.8 1903.5 1468.8 1905.5 1468.8 1907.5 1468.8 1909.5 1468.8 1911.5 1468.8 1913.5 1468.8 1915.5 1468.8 1917.5 1468.8 1919.5 1468.8 1921.5 1468.8 1923.5 1468.8 1925.5 1468.8 1927.5 1468.8 1929.5 1468.8 1931.5 1468.8 1933.5 1468.8 1935.5 1468.8 1937.5 1468.8 1939.5 1468.8 1941.5 1468.8 1943.5 1468.8 1945.5 1468.8 1947.5 1468.8 1949.5 1468.9 1951.5 1468.9 1953.5 1468.9 1955.5 1468.9 1957.5 1468.9 1959.5 1468.9 1961.5 1468.9 1963.5 1468.9 1965.5 1469.0 1967.5 1469.0 1969.5 1469.0 1971.5 1469.0 1973.5 1469.0 1975.5 1469.1 1977.5 1469.1 1979.5 1469.1 1981.5 1469.1 1983.5 1469.1 1985.5 1469.2 1987.5 1469.2 1989.5 1469.2 1991.5 1469.2 1993.5 1469.3 1995.5 1469.3 1997.5 1469.3 1999.5 1469.4 2001.5 1469.4 2003.5 1469.4 2005.5 1469.5 2007.5 1469.5 2009.5 1469.5 2011.5 1469.6 2013.5 1469.6 2015.5 1469.7 2017.5 1469.7 2019.5 1469.7 2021.5 1469.8 2023.5 1469.8 2025.5 1469.9 2027.5 1469.9 2029.5 1470.0 2031.5 1470.0 2033.5 1470.1 2035.5 1470.1 2037.5 1470.2 2039.5 1470.2 2040.0 1470.2" stroke="#ff0000" stroke-width="9.6"/>
</g>
<g fill="none" stroke-linecap="butt">
<path d="M237.8 20.5 H2043" stroke="#000" stroke-width="5.1"/>
<path d="M237.8 1484.3 H2043" stroke="#000" stroke-width="5.2"/>
<path d="M240.6 18 V1500.5" stroke="#000" stroke-width="5.6"/>
<path d="M2040.2 18 V1500.5" stroke="#000" stroke-width="5.3"/>
<path d="M210.5 1470 H240.6" stroke="#000" stroke-width="4.2"/>
<path d="M223 1329.2 H240.6" stroke="#000" stroke-width="4.2"/>
<path d="M210.5 1188.3 H240.6" stroke="#000" stroke-width="4.2"/>
<path d="M223 1047.5 H240.6" stroke="#000" stroke-width="4.2"/>
<path d="M210.5 906.6 H240.6" stroke="#000" stroke-width="4.2"/>
<path d="M223 765.8 H240.6" stroke="#000" stroke-width="4.2"/>
<path d="M210.5 625 H240.6" stroke="#000" stroke-width="4.2"/>
<path d="M223 484.1 H240.6" stroke="#000" stroke-width="4.2"/>
<path d="M210.5 343.3 H240.6" stroke="#000" stroke-width="4.2"/>
<path d="M223 202.4 H240.6" stroke="#000" stroke-width="4.2"/>
<path d="M210.5 61.6 H240.6" stroke="#000" stroke-width="4.2"/>
<path d="M240.7 1484.3 V1500.5" stroke="#000" stroke-width="4.2"/>
<path d="M465.7 1484.3 V1513.8" stroke="#000" stroke-width="4.2"/>
<path d="M690.7 1484.3 V1500.5" stroke="#000" stroke-width="4.2"/>
<path d="M915.7 1484.3 V1513.8" stroke="#000" stroke-width="4.2"/>
<path d="M1140.7 1484.3 V1500.5" stroke="#000" stroke-width="4.2"/>
<path d="M1365.7 1484.3 V1513.8" stroke="#000" stroke-width="4.2"/>
<path d="M1590.7 1484.3 V1500.5" stroke="#000" stroke-width="4.2"/>
<path d="M1815.7 1484.3 V1513.8" stroke="#000" stroke-width="4.2"/>
<path d="M2040.7 1484.3 V1500.5" stroke="#000" stroke-width="4.2"/>
</g>
<g font-size="60">
<text transform="translate(193,1487.5) scale(1,1.04)" text-anchor="end">0</text>
<text transform="translate(193,1205.8) scale(1,1.04)" text-anchor="end">7</text>
<text transform="translate(193,924.1) scale(1,1.04)" text-anchor="end">14</text>
<text transform="translate(193,642.5) scale(1,1.04)" text-anchor="end">21</text>
<text transform="translate(193,360.8) scale(1,1.04)" text-anchor="end">28</text>
<text transform="translate(193,79.1) scale(1,1.04)" text-anchor="end">35</text>
<text transform="translate(465.7,1578) scale(1,1.04)" text-anchor="middle">1400</text>
<text transform="translate(915.7,1578) scale(1,1.04)" text-anchor="middle">1500</text>
<text transform="translate(1365.7,1578) scale(1,1.04)" text-anchor="middle">1600</text>
<text transform="translate(1815.7,1578) scale(1,1.04)" text-anchor="middle">1700</text>
</g>
<text transform="translate(1140.5,1677.5) scale(1,1.04)" font-size="74" text-anchor="middle">Wavelength (nm)</text>
<text transform="translate(72,706.5) rotate(-90) scale(1,1.04)" font-size="74" text-anchor="middle">Transmission (a.u.)</text>
<rect x="1499" y="1248.5" width="534" height="223.5" fill="#fff"/>
<g fill="none">
<path d="M1497.5 1248.5 H2034" stroke="#7a7a7a" stroke-width="3"/>
<path d="M1499 1251.2 H2034" stroke="#dadada" stroke-width="2.4"/>
<path d="M1500.4 1247 V1473" stroke="#111" stroke-width="2.9"/>
<path d="M1497.5 1247 V1473" stroke="#bdbdbd" stroke-width="2.6"/>
<path d="M2032 1247 V1473" stroke="#555" stroke-width="2.2"/>
<path d="M2034.6 1247 V1473" stroke="#9a9a9a" stroke-width="3"/>
<path d="M1499 1472 H2036" stroke="#2a0000" stroke-width="2.6"/>
</g>
<path d="M1525 1289.6 H1668" stroke="#000" stroke-width="10" fill="none"/>
<path d="M1525 1364.6 H1668" stroke="#ff0000" stroke-width="9.2" fill="none"/>
<g font-size="60">
<text transform="translate(1678,1310) scale(1,1.04)">Light source</text>
<text transform="translate(1678,1383.5) scale(1,1.04)">Fiber</text>
<text transform="translate(1678,1459) scale(1,1.04)">transmission</text>
</g>
<rect x="1346" y="20.5" width="694" height="562" fill="#fff"/>
<g clip-path="url(#ci)" fill="none" stroke-linejoin="round" stroke-linecap="round">
<path d="M1346.0 143.9L1348.0 143.8 1350.0 143.6 1352.0 143.3 1353.9 142.9 1355.9 142.5 1357.8 142.1 1359.8 141.6 1361.7 141.1 1363.6 140.6 1365.6 140.0 1367.5 139.5 1369.4 138.9 1371.3 138.3 1373.2 137.7 1375.1 137.2 1377.1 136.6 1379.0 136.1 1380.9 135.6 1382.9 135.1 1384.8 134.7 1386.8 134.3 1388.8 134.0 1390.8 133.8 1392.8 133.6 1394.8 133.5 1396.8 133.5 1398.8 133.5 1400.7 133.7 1402.7 133.9 1404.7 134.1 1406.7 134.5 1408.6 134.9 1410.6 135.3 1412.5 135.9 1414.4 136.4 1416.4 137.0 1418.2 137.7 1420.1 138.4 1422.0 139.1 1423.8 139.9 1425.7 140.7 1427.5 141.5 1429.3 142.4 1431.1 143.3 1432.8 144.2 1434.6 145.1 1436.4 146.1 1438.1 147.1 1439.8 148.1 1441.5 149.2 1443.2 150.3 1444.8 151.4 1446.5 152.5 1448.1 153.7 1449.8 154.8 1451.4 156.0 1452.9 157.2 1454.5 158.5 1456.1 159.7 1457.6 161.0 1459.1 162.3 1460.7 163.6 1462.2 164.9 1463.6 166.3 1465.1 167.6 1466.6 169.0 1468.0 170.4 1469.4 171.8 1470.8 173.2 1472.2 174.6 1473.6 176.1 1475.0 177.5 1476.4 179.0 1477.7 180.5 1479.0 182.0 1480.4 183.5 1481.7 185.0 1483.0 186.5 1484.3 188.0 1485.5 189.6 1486.8 191.1 1488.1 192.7 1489.3 194.2 1490.5 195.8 1491.8 197.4 1493.0 199.0 1494.2 200.6 1495.4 202.2 1496.5 203.8 1497.7 205.4 1498.9 207.1 1500.0 208.7 1501.2 210.3 1502.3 212.0 1503.4 213.6 1504.6 215.3 1505.7 217.0 1506.8 218.6 1507.9 220.3 1509.0 222.0 1510.0 223.7 1511.1 225.3 1512.2 227.0 1513.2 228.7 1514.3 230.4 1515.3 232.1 1516.4 233.8 1517.4 235.6 1518.4 237.3 1519.4 239.0 1520.5 240.7 1521.5 242.5 1522.5 244.2 1523.5 245.9 1524.4 247.7 1525.4 249.4 1526.4 251.2 1527.4 252.9 1528.3 254.7 1529.3 256.4 1530.2 258.2 1531.2 259.9 1532.1 261.7 1533.1 263.5 1534.0 265.2 1534.9 267.0 1535.9 268.8 1536.8 270.6 1537.7 272.3 1538.6 274.1 1539.5 275.9 1540.4 277.7 1541.3 279.5 1542.2 281.3 1543.1 283.1 1543.9 284.9 1544.8 286.7 1545.7 288.5 1546.6 290.3 1547.4 292.1 1548.3 293.9 1549.1 295.7 1550.0 297.5 1550.8 299.3 1551.7 301.1 1552.5 302.9 1553.4 304.7 1554.2 306.6 1555.0 308.4 1555.8 310.2 1556.7 312.0 1557.5 313.8 1558.3 315.7 1559.1 317.5 1559.9 319.3 1560.7 321.2 1561.5 323.0 1562.3 324.8 1563.1 326.7 1563.9 328.5 1564.7 330.3 1565.5 332.2 1566.3 334.0 1567.0 335.9 1567.8 337.7 1568.6 339.5 1569.4 341.4 1570.1 343.2 1570.9 345.1 1571.6 346.9 1572.4 348.8 1573.2 350.6 1573.9 352.5 1574.7 354.3 1575.4 356.2 1576.2 358.1 1576.9 359.9 1577.6 361.8 1578.4 363.6 1579.1 365.5 1579.8 367.4 1580.6 369.2 1581.3 371.1 1582.0 372.9 1582.7 374.8 1583.5 376.7 1584.2 378.5 1584.9 380.4 1585.6 382.3 1586.3 384.2 1587.0 386.0 1587.7 387.9 1588.4 389.8 1589.1 391.6 1589.8 393.5 1590.5 395.4 1591.2 397.3 1591.9 399.1 1592.6 401.0 1593.3 402.9 1594.0 404.8 1594.7 406.6 1595.4 408.5 1596.1 410.4 1596.8 412.3 1597.5 414.1 1598.2 416.0 1598.8 417.9 1599.5 419.8 1600.2 421.7 1600.9 423.5 1601.6 425.4 1602.3 427.3 1603.0 429.2 1603.7 431.0 1604.4 432.9 1605.1 434.8 1605.8 436.7 1606.5 438.5 1607.2 440.4 1607.9 442.3 1608.6 444.1 1609.3 446.0 1610.0 447.9 1610.7 449.7 1611.5 451.6 1612.2 453.5 1612.9 455.3 1613.6 457.2 1614.4 459.1 1615.1 460.9 1615.8 462.8 1616.6 464.7 1617.3 466.5 1618.0 468.4 1618.8 470.2 1619.5 472.1 1620.3 473.9 1621.1 475.8 1621.8 477.6 1622.6 479.5 1623.4 481.3 1624.2 483.1 1625.0 485.0 1625.8 486.8 1626.6 488.6 1627.4 490.5 1628.2 492.3 1629.0 494.1 1629.9 495.9 1630.7 497.7 1631.6 499.5 1632.5 501.3 1633.3 503.1 1634.2 504.9 1635.2 506.7 1636.1 508.5 1637.0 510.3 1638.0 512.0 1638.9 513.8 1639.9 515.5 1640.9 517.2 1642.0 518.9 1643.0 520.6 1644.1 522.3 1645.2 524.0 1646.3 525.6 1647.5 527.2 1648.8 528.8 1650.0 530.4 1651.4 531.8 1652.8 533.3 1654.3 534.6 1655.8 535.8 1657.5 536.9 1659.3 537.8 1661.2 538.4 1663.2 538.7 1665.2 538.5 1667.1 538.0 1668.9 537.1 1670.6 536.0 1672.1 534.7 1673.5 533.2 1674.8 531.7 1676.0 530.1 1677.2 528.5 1678.3 526.9 1679.4 525.2 1680.4 523.5 1681.4 521.7 1682.3 520.0 1683.3 518.2 1684.2 516.4 1685.1 514.6 1685.9 512.8 1686.8 511.0 1687.6 509.2 1688.4 507.4 1689.3 505.5 1690.0 503.7 1690.8 501.9 1691.6 500.0 1692.3 498.2 1693.1 496.3 1693.8 494.4 1694.5 492.6 1695.2 490.7 1695.9 488.8 1696.6 487.0 1697.3 485.1 1698.0 483.2 1698.7 481.3 1699.4 479.4 1700.0 477.6 1700.7 475.7 1701.3 473.8 1702.0 471.9 1702.6 470.0 1703.3 468.1 1703.9 466.2 1704.5 464.3 1705.1 462.4 1705.8 460.5 1706.4 458.6 1707.0 456.7 1707.6 454.8 1708.2 452.9 1708.8 451.0 1709.4 449.1 1710.0 447.1 1710.6 445.2 1711.2 443.3 1711.8 441.4 1712.4 439.5 1712.9 437.6 1713.5 435.7 1714.1 433.8 1714.7 431.8 1715.3 429.9 1715.8 428.0 1716.4 426.1 1717.0 424.2 1717.5 422.3 1718.1 420.3 1718.7 418.4 1719.2 416.5 1719.8 414.6 1720.4 412.7 1720.9 410.8 1721.5 408.8 1722.1 406.9 1722.6 405.0 1723.2 403.1 1723.7 401.2 1724.3 399.2 1724.9 397.3 1725.4 395.4 1726.0 393.5 1726.5 391.6 1727.1 389.6 1727.7 387.7 1728.2 385.8 1728.8 383.9 1729.3 382.0 1729.9 380.0 1730.5 378.1 1731.0 376.2 1731.6 374.3 1732.1 372.4 1732.7 370.4 1733.3 368.5 1733.8 366.6 1734.4 364.7 1735.0 362.8 1735.5 360.8 1736.1 358.9 1736.7 357.0 1737.2 355.1 1737.8 353.2 1738.4 351.3 1739.0 349.3 1739.5 347.4 1740.1 345.5 1740.7 343.6 1741.3 341.7 1741.9 339.8 1742.5 337.9 1743.1 336.0 1743.6 334.0 1744.2 332.1 1744.8 330.2 1745.4 328.3 1746.0 326.4 1746.6 324.5 1747.2 322.6 1747.8 320.7 1748.5 318.8 1749.1 316.9 1749.7 315.0 1750.3 313.1 1750.9 311.2 1751.5 309.3 1752.2 307.4 1752.8 305.5 1753.4 303.6 1754.0 301.7 1754.7 299.8 1755.3 297.9 1756.0 296.0 1756.6 294.1 1757.2 292.2 1757.9 290.3 1758.5 288.4 1759.2 286.5 1759.9 284.6 1760.5 282.8 1761.2 280.9 1761.9 279.0 1762.5 277.1 1763.2 275.2 1763.9 273.3 1764.6 271.5 1765.2 269.6 1765.9 267.7 1766.6 265.8 1767.3 263.9 1768.0 262.1 1768.7 260.2 1769.4 258.3 1770.1 256.5 1770.9 254.6 1771.6 252.7 1772.3 250.9 1773.0 249.0 1773.8 247.1 1774.5 245.3 1775.3 243.4 1776.0 241.6 1776.8 239.7 1777.5 237.9 1778.3 236.0 1779.1 234.2 1779.9 232.3 1780.6 230.5 1781.4 228.7 1782.2 226.8 1783.0 225.0 1783.9 223.2 1784.7 221.4 1785.5 219.5 1786.3 217.7 1787.2 215.9 1788.0 214.1 1788.9 212.3 1789.8 210.5 1790.6 208.7 1791.5 206.9 1792.4 205.1 1793.3 203.3 1794.2 201.5 1795.1 199.8 1796.1 198.0 1797.0 196.2 1798.0 194.5 1799.0 192.7 1799.9 191.0 1800.9 189.3 1801.9 187.5 1803.0 185.8 1804.0 184.1 1805.0 182.4 1806.1 180.7 1807.2 179.0 1808.3 177.3 1809.4 175.7 1810.5 174.0 1811.6 172.4 1812.8 170.7 1813.9 169.1 1815.1 167.5 1816.3 165.9 1817.6 164.3 1818.8 162.8 1820.1 161.2 1821.4 159.7 1822.7 158.2 1824.0 156.7 1825.4 155.2 1826.8 153.8 1828.2 152.3 1829.6 150.9 1831.1 149.6 1832.5 148.2 1834.1 146.9 1835.6 145.7 1837.2 144.4 1838.8 143.2 1840.4 142.0 1842.0 140.9 1843.7 139.9 1845.4 138.8 1847.2 137.8 1848.9 136.9 1850.7 136.0 1852.5 135.1 1854.3 134.3 1856.2 133.5 1858.0 132.7 1859.9 131.9 1861.7 131.2 1863.6 130.4 1865.4 129.7 1867.3 129.0 1869.2 128.3 1871.0 127.5 1872.9 126.8 1874.7 126.0 1876.5 125.2 1878.4 124.3 1880.2 123.5 1881.9 122.6 1883.7 121.6 1885.5 120.6 1887.2 119.6 1888.9 118.5 1890.5 117.4 1892.1 116.3 1893.8 115.1 1895.3 113.9 1896.9 112.6 1898.5 111.3 1900.0 110.1 1901.5 108.8 1903.1 107.5 1904.6 106.2 1906.1 104.9 1907.6 103.6 1909.1 102.3 1910.6 100.9 1912.1 99.6 1913.7 98.4 1915.2 97.1 1916.8 95.8 1918.3 94.6 1919.9 93.4 1921.5 92.2 1923.1 91.0 1924.8 89.8 1926.4 88.7 1928.1 87.6 1929.8 86.6 1931.5 85.5 1933.3 84.5 1935.0 83.6 1936.8 82.7 1938.6 81.8 1940.4 81.0 1942.3 80.3 1944.2 79.6 1946.1 79.0 1948.0 78.4 1949.9 77.9 1951.9 77.5 1953.8 77.1 1955.8 76.9 1957.8 76.7 1959.8 76.6 1961.8 76.6 1963.8 76.8 1965.8 77.0 1967.8 77.3 1969.7 77.7 1971.7 78.2 1973.6 78.7 1975.5 79.4 1977.3 80.2 1979.2 81.0 1980.9 81.9 1982.7 82.9 1984.4 83.9 1986.1 85.0 1987.7 86.1 1989.3 87.3 1990.9 88.5 1992.4 89.8 1994.0 91.1 1995.5 92.4 1996.9 93.8 1998.4 95.2 1999.8 96.6 2001.2 98.0 2002.6 99.4 2004.0 100.9 2005.3 102.4 2006.7 103.9 2008.0 105.4 2009.3 106.9 2010.6 108.4 2011.9 109.9 2013.2 111.5 2014.4 113.0 2015.7 114.6 2016.9 116.1 2018.2 117.7 2019.4 119.3 2020.6 120.9 2021.8 122.4 2023.0 124.0 2024.3 125.6 2025.5 127.2 2026.7 128.8 2027.8 130.4 2029.0 132.0 2030.2 133.6 2031.4 135.3 2032.6 136.9 2033.8 138.5 2035.0 140.1 2036.1 141.7 2037.0 142.9" stroke="#ff0000" stroke-width="6.5"/>
</g>
<g fill="none">
<path d="M1346 18 V584.8" stroke="#000" stroke-width="4"/>
<path d="M1337.8 582.3 H2040" stroke="#000" stroke-width="4.2"/>
<path d="M1340 20.5 H2043" stroke="#000" stroke-width="5.1"/>
<path d="M2040.2 18 V600" stroke="#000" stroke-width="5.3"/>
<path d="M1333.4 89.5 H1346" stroke="#000" stroke-width="3.6"/>
<path d="M1338 160.1 H1346" stroke="#000" stroke-width="3.6"/>
<path d="M1333.4 230.7 H1346" stroke="#000" stroke-width="3.6"/>
<path d="M1338 301.2 H1346" stroke="#000" stroke-width="3.6"/>
<path d="M1333.4 371.8 H1346" stroke="#000" stroke-width="3.6"/>
<path d="M1338 442.4 H1346" stroke="#000" stroke-width="3.6"/>
<path d="M1333.4 513 H1346" stroke="#000" stroke-width="3.6"/>
<path d="M1338 583.6 H1346" stroke="#000" stroke-width="3.6"/>
<path d="M1376.5 582.3 V595.5" stroke="#000" stroke-width="3.6"/>
<path d="M1462 582.3 V590" stroke="#000" stroke-width="3.6"/>
<path d="M1547.5 582.3 V595.5" stroke="#000" stroke-width="3.6"/>
<path d="M1633 582.3 V590" stroke="#000" stroke-width="3.6"/>
<path d="M1718.6 582.3 V595.5" stroke="#000" stroke-width="3.6"/>
<path d="M1804.1 582.3 V590" stroke="#000" stroke-width="3.6"/>
<path d="M1889.6 582.3 V595.5" stroke="#000" stroke-width="3.6"/>
<path d="M1975.1 582.3 V590" stroke="#000" stroke-width="3.6"/>
<path d="M2060.6 582.3 V595.5" stroke="#000" stroke-width="3.6"/>
</g>
<g font-size="40">
<text transform="translate(1329,101.5) scale(1,1.04)" text-anchor="end">-4</text>
<text transform="translate(1329,242.7) scale(1,1.04)" text-anchor="end">-6</text>
<text transform="translate(1329,383.8) scale(1,1.04)" text-anchor="end">-8</text>
<text transform="translate(1329,525) scale(1,1.04)" text-anchor="end">-10</text>
<text transform="translate(1376.5,633.5) scale(1,1.04)" text-anchor="middle">1474</text>
<text transform="translate(1547.5,633.5) scale(1,1.04)" text-anchor="middle">1496</text>
<text transform="translate(1718.6,633.5) scale(1,1.04)" text-anchor="middle">1518</text>
<text transform="translate(1889.6,633.5) scale(1,1.04)" text-anchor="middle">1540</text>
</g>
<text transform="translate(1693,695) scale(1,1.04)" font-size="49.5" text-anchor="middle">Wavelength (nm)</text>
<text transform="translate(1251,313) rotate(-90) scale(1,1.04)" font-size="49.5" text-anchor="middle">Transmission (dBm)</text>
</svg></body></html>
